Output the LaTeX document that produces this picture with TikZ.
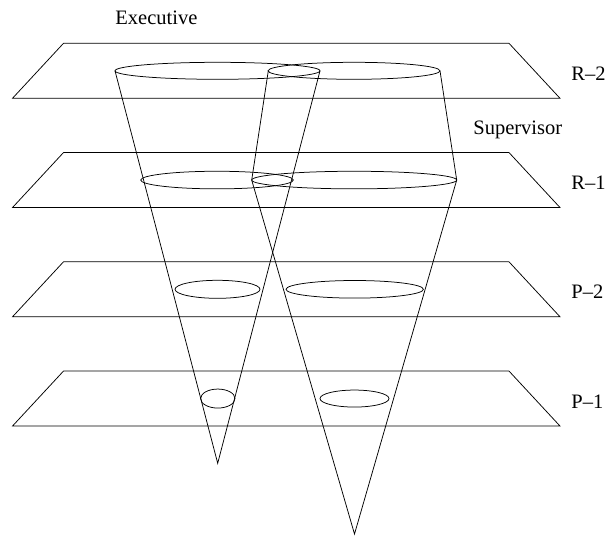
\documentclass[tikz,border=0pt]{standalone}
\usepackage{fontspec}
\setmainfont{Liberation Serif}
\begin{document}
\begin{tikzpicture}[x=1pt,y=-1pt,line width=0.75pt,
  plane/.style={draw=black},
  ring/.style={draw=black},
  cone/.style={draw=black,line join=miter},
  lbl/.style={font=\fontsize{20.5}{24}\selectfont,inner sep=0pt,anchor=base west}]
\useasboundingbox (0,0) rectangle (615,536);
% planes
\foreach \t in {43.3,152.55,261.8,371.05}{
  \draw[plane] (63.5,\t) -- (509,\t) -- (560,\t+55) -- (12.5,\t+55) -- cycle;
}
% plane labels
\node[lbl] (r2) at (571,80.3) {R–2};
\node[lbl] (r1) at (571,189.5) {R–1};
\node[lbl] (p2) at (571,298.8) {P–2};
\node[lbl] (p1) at (571,408) {P–1};
\node[lbl] (exec) at (115,24.5) {Executive};
\node[lbl] (sup) at (473,134.5) {Supervisor};
% ellipses
\draw[ring] (217.5,70.8) ellipse [x radius=102.5,y radius=8.5];
\draw[ring] (354,70.8) ellipse [x radius=86,y radius=8.5];
\draw[ring] (217,180.05) ellipse [x radius=76.3,y radius=8.8];
\draw[ring] (354.2,180.05) ellipse [x radius=102.5,y radius=8.8];
\draw[ring] (217.5,289.3) ellipse [x radius=42.5,y radius=9];
\draw[ring] (354.7,289.3) ellipse [x radius=68.7,y radius=8.8];
\draw[ring] (217.8,398.55) ellipse [x radius=17.2,y radius=9.5];
\draw[ring] (354.5,398.55) ellipse [x radius=34.5,y radius=8.5];
% cones
\draw[cone] (115,70.8) -- (217.7,463.3) -- (320,70.8);
\draw[cone] (268.3,70.8) -- (251.7,180.05) -- (354.5,534) -- (456.7,180.05) -- (440,70.8);
\end{tikzpicture}
\end{document}
